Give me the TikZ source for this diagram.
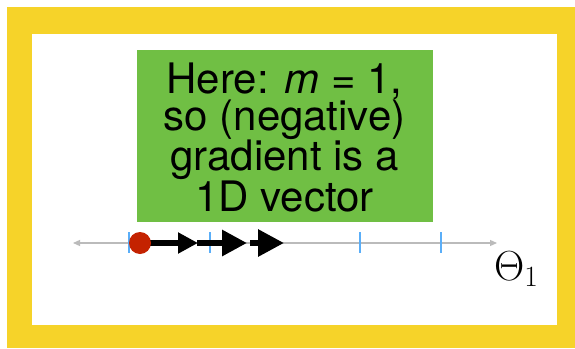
\RequirePackage{fix-cm}
\documentclass[tikz,border=0pt]{standalone}
\usepackage[no-math]{fontspec}
\setmainfont{TeX Gyre Heros}
\usetikzlibrary{arrows.meta}
\definecolor{frameyellow}{HTML}{F6D329}
\definecolor{boxgreen}{HTML}{70BF44}
\definecolor{dotred}{HTML}{C42200}
\definecolor{tickblue}{HTML}{5AAEF8}
\definecolor{axisgray}{HTML}{BBBBBB}
\tikzset{
  greenbox/.style={fill=boxgreen, draw=none, minimum width=296pt, minimum height=172pt, inner sep=0pt},
  boxtext/.style={align=center, inner sep=0pt, font=\fontsize{42}{37}\selectfont},
  axisline/.style={draw=axisgray, line width=1.2pt, {Triangle[length=7pt,width=6pt]}-{Triangle[length=7pt,width=6pt]}},
  tickmark/.style={draw=tickblue, line width=1.6pt},
  gradarrow/.style={draw=black, line width=6pt, -{Triangle[length=#1,width=#1]}},
  reddot/.style={circle, fill=dotred, minimum size=22pt, inner sep=0pt},
  axislabel/.style={inner sep=0pt, anchor=base west, font=\fontsize{42}{42}\selectfont}
}
\begin{document}
\begin{tikzpicture}[x=1pt,y=-1pt]
\useasboundingbox (0,0) rectangle (575,348);
\fill[white] (0,0) rectangle (575,348);
\fill[frameyellow] (7,7) rectangle (575,348);
\fill[white] (32,34) rectangle (557,325);
\node[greenbox] (box) at (284.5,136) {};
\node[boxtext] (txt) at (284.5,137.5) {Here: \textit{m} = 1,\\so (negative)\\gradient is a\\1D vector};
\coordinate (axL) at (73,243);
\coordinate (axR) at (497,243);
\draw[axisline] (axL) -- (axR);
\foreach \x/\n in {129/t1,210/t2,360/t3,441/t4}{
  \coordinate (\n a) at (\x,232);
  \coordinate (\n b) at (\x,253);
  \draw[tickmark] (\n a) -- (\n b);
}
\coordinate (a1s) at (140,243);
\coordinate (a1e) at (198,243);
\coordinate (a2s) at (197,243);
\coordinate (a2e) at (247,243);
\coordinate (a3s) at (250,243);
\coordinate (a3e) at (284,243);
\draw[gradarrow=20pt] (a1s) -- (a1e);
\draw[gradarrow=25pt] (a2s) -- (a2e);
\draw[gradarrow=26pt] (a3s) -- (a3e);
\node[reddot] (dot) at (140,243) {};
\node[axislabel] (lab) at (494,280) {$\Theta_1$};
\end{tikzpicture}
\end{document}
